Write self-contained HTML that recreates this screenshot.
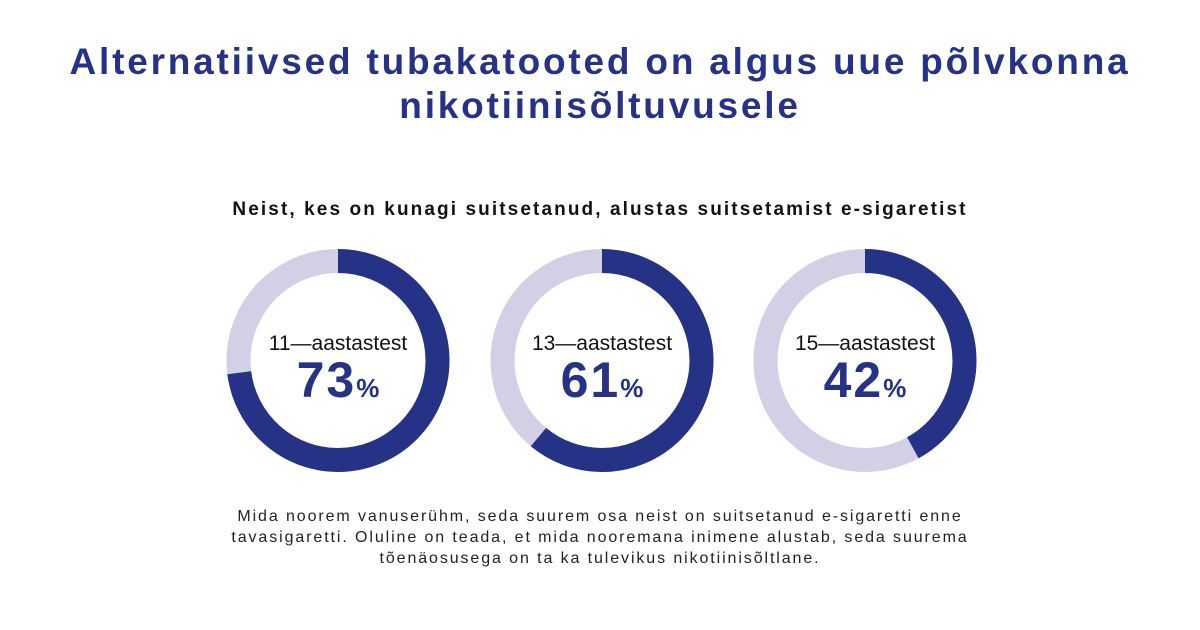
<!DOCTYPE html>
<html><head><meta charset="utf-8"><style>
body{margin:0;width:1200px;height:630px;background:#fff;font-family:"Liberation Sans",sans-serif;overflow:hidden;position:relative}
.t{position:absolute;left:0;width:1200px;text-align:center;color:#253285;font-weight:bold;font-size:37px;letter-spacing:2.8px;line-height:44px;top:40px}
.s{position:absolute;left:0;width:1200px;text-align:center;top:199px;font-weight:bold;font-size:19px;letter-spacing:2.1px;color:#111}
.f{position:absolute;left:0;width:1200px;text-align:center;top:506px;font-size:16px;letter-spacing:1.9px;line-height:21px;color:#222}
</style></head><body>
<div class="t">Alternatiivsed tubakatooted on algus uue põlvkonna<br>nikotiinisõltuvusele</div>
<div class="s">Neist, kes on kunagi suitsetanud, alustas suitsetamist e-sigaretist</div>
<svg id="c" width="1200" height="630" style="position:absolute;left:0;top:0"></svg>
<div class="f">Mida noorem vanuserühm, seda suurem osa neist on suitsetanud e-sigaretti enne<br>tavasigaretti. Oluline on teada, et mida nooremana inimene alustab, seda suurema<br>tõenäosusega on ta ka tulevikus nikotiinisõltlane.</div>
<script>
const labels=["11—aastastest","13—aastastest","15—aastastest"];
const values=[73,61,42];
const svg=document.getElementById('c');
const ns="http://www.w3.org/2000/svg";
const centers=[338,602,865], cy=360.5, r=99.5, sw=24;
const C=2*Math.PI*r;
values.forEach((v,i)=>{
  const g=document.createElementNS(ns,'g');
  
  
  const bg=document.createElementNS(ns,'circle');
  
  
  bg.setAttribute('cx',centers[i]);bg.setAttribute('cy',cy);bg.setAttribute('r',r);
  bg.setAttribute('fill','none');bg.setAttribute('stroke','#d3d0e6');bg.setAttribute('stroke-width',sw);
  g.appendChild(bg);
  const fg=document.createElementNS(ns,'circle');
  
  
  fg.setAttribute('cx',centers[i]);fg.setAttribute('cy',cy);fg.setAttribute('r',r);
  fg.setAttribute('fill','none');fg.setAttribute('stroke','#253285');fg.setAttribute('stroke-width',sw);
  fg.setAttribute('stroke-dasharray',(C*v/100)+' '+C);
  fg.setAttribute('transform','rotate(-90 '+centers[i]+' '+cy+')');
  g.appendChild(fg);
  const t=document.createElementNS(ns,'text');
  
  
  t.setAttribute('x',centers[i]);t.setAttribute('y',350);t.setAttribute('text-anchor','middle');
  t.setAttribute('font-size','21');t.setAttribute('fill','#111');t.textContent=labels[i];
  g.appendChild(t);
  const p=document.createElementNS(ns,'text');
  
  
  p.setAttribute('x',centers[i]);p.setAttribute('y',397);p.setAttribute('text-anchor','middle');
  p.setAttribute('fill','#253285');p.setAttribute('font-weight','bold');
  const a=document.createElementNS(ns,'tspan');a.setAttribute('font-size','50');a.setAttribute('letter-spacing','2');a.textContent=v;
  const b=document.createElementNS(ns,'tspan');b.setAttribute('font-size','26');b.textContent='%';
  p.appendChild(a);p.appendChild(b);g.appendChild(p);
  svg.appendChild(g);
});
</script>
</body></html>
